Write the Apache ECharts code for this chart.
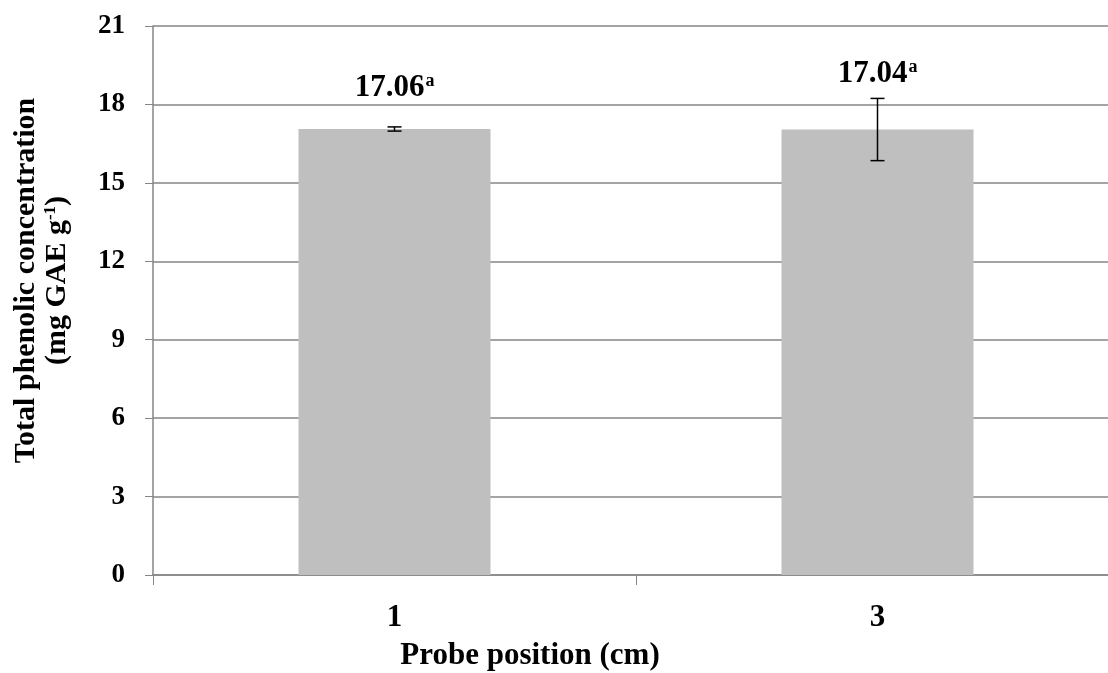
<!DOCTYPE html>
<html>
<head>
<meta charset="utf-8">
<script src="https://cdn.jsdelivr.net/npm/echarts@6/dist/echarts.min.js"></script>
<style>
  html, body { margin: 0; padding: 0; background: #fff; }
  #chart { width: 1108px; height: 673px; }
</style>
</head>
<body>
<div id="chart"></div>
<script>
const positions = ['1', '3'];
const phenolic = [17.06, 17.04];
const stdDev = [0.08, 1.19];
const letters = ['a', 'a'];

const font = '"Liberation Serif", "Times New Roman", serif';
const chart = echarts.init(document.getElementById('chart'));

const labelGap = [26, 40]; // Excel placed the two labels at different heights

chart.setOption({
    animation: false,
    grid: { left: 153, top: 26, width: 966, bottom: 98, outerBoundsMode: 'none', containLabel: false },
    xAxis: {
        type: 'category',
        data: positions,
        name: 'Probe position (cm)',
        nameLocation: 'middle',
        nameGap: 65,
        nameTextStyle: { fontFamily: font, fontWeight: 'bold', fontSize: 31, color: '#000', padding: [0, 212, 0, 0] },
        axisLine: { lineStyle: { color: '#868686', width: 1.5 } },
        axisTick: { show: true, length: 10, interval: 0, lineStyle: { color: '#868686' } },
        axisLabel: { fontFamily: font, fontWeight: 'bold', fontSize: 31, color: '#000', margin: 27 }
    },
    yAxis: {
        type: 'value',
        min: 0, max: 21, interval: 3,
        name: 'Total phenolic concentration\n(mg GAE g{sup|-1})',
        nameLocation: 'middle',
        nameGap: 80,
        nameTextStyle: {
            fontFamily: font, fontWeight: 'bold', fontSize: 30, color: '#000', lineHeight: 31,
            padding: [0, 0, 0, 40],
            rich: { sup: { fontFamily: font, fontWeight: 'bold', fontSize: 17, verticalAlign: 'top', padding: [0, 0, 12, 0] } }
        },
        axisLine: { show: true, lineStyle: { color: '#868686', width: 1.5 } },
        axisTick: { show: true, length: 8, lineStyle: { color: '#868686' } },
        axisLabel: { fontFamily: font, fontWeight: 'bold', fontSize: 27, color: '#000', margin: 28 },
        splitLine: { lineStyle: { color: '#868686', width: 1.5 } }
    },
    series: [
        {
            type: 'bar',
            barWidth: 192,
            itemStyle: { color: '#bfbfbf' },
            data: phenolic.map((v, i) => ({
                value: v,
                label: {
                    show: true,
                    position: 'top',
                    distance: labelGap[i],
                    formatter: v.toFixed(2) + '{sup|' + letters[i] + '}',
                    fontFamily: font, fontWeight: 'bold', fontSize: 31, color: '#000',
                    rich: { sup: { fontFamily: font, fontWeight: 'bold', fontSize: 18, verticalAlign: 'top', padding: [0, 0, 12, 1] } }
                }
            }))
        },
        {
            type: 'custom',
            data: phenolic.map((v, i) => [i, v - stdDev[i], v + stdDev[i]]),
            renderItem: (params, api) => {
                const lo = api.coord([api.value(0), api.value(1)]);
                const hi = api.coord([api.value(0), api.value(2)]);
                const half = 7;
                const style = { stroke: '#000', lineWidth: 1.5 };
                return {
                    type: 'group',
                    children: [
                        { type: 'line', shape: { x1: hi[0], y1: hi[1], x2: lo[0], y2: lo[1] }, style },
                        { type: 'line', shape: { x1: hi[0] - half, y1: hi[1], x2: hi[0] + half, y2: hi[1] }, style },
                        { type: 'line', shape: { x1: lo[0] - half, y1: lo[1], x2: lo[0] + half, y2: lo[1] }, style }
                    ]
                };
            },
            z: 10
        }
    ]
});
window.addEventListener('resize', () => chart.resize());
</script>
</body>
</html>
